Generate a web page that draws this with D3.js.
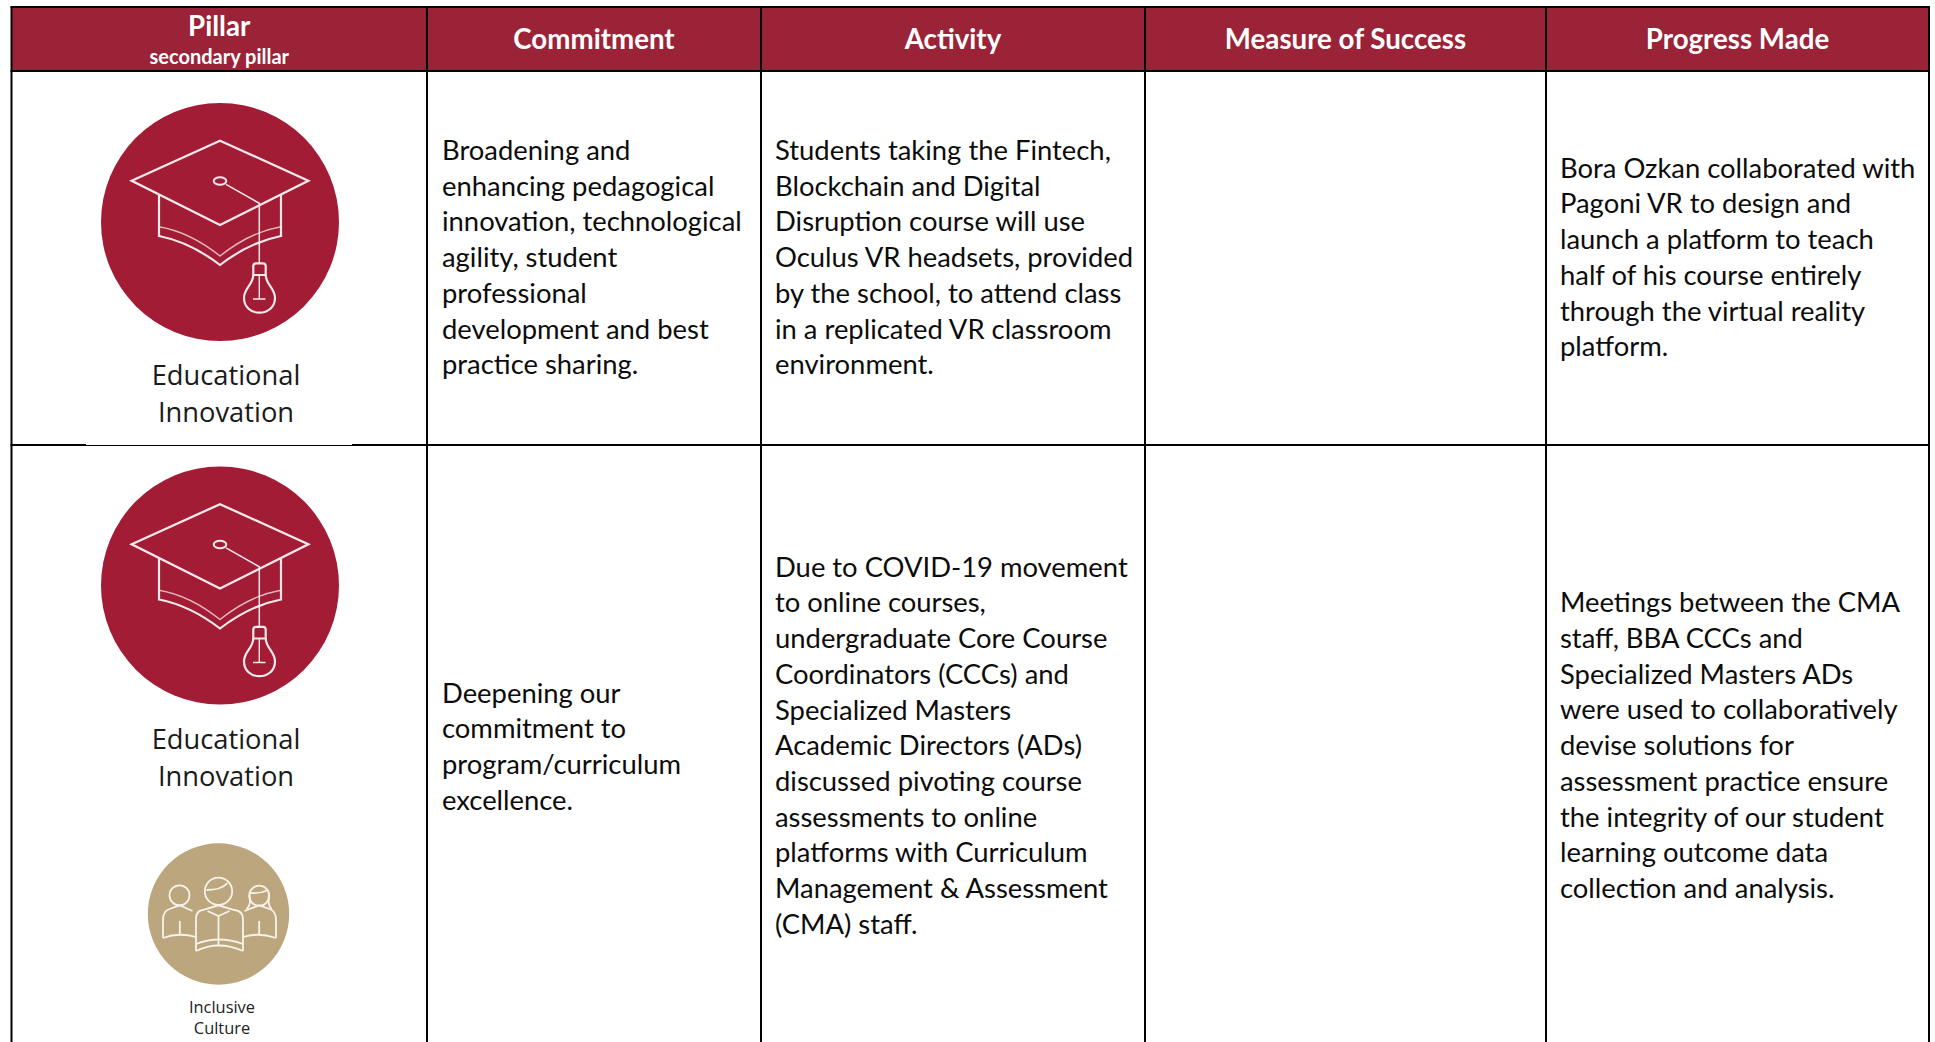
<!DOCTYPE html>
<html>
<head>
<meta charset="utf-8">
<script src="https://cdn.jsdelivr.net/npm/d3@7"></script>
<style>
  html, body { margin: 0; background: #fff; overflow: hidden; }
  svg { display: block; }
  text { font-family: Lato, "Open Sans", sans-serif; }
</style>
</head>
<body>
<div id="chart"></div>
<script>
const headers = ['Pillar', 'Commitment', 'Activity', 'Measure of Success', 'Progress Made'];
const subHeader = 'secondary pillar';
const pillarName = ['Educational', 'Innovation'];
const secondPillarName = ['Inclusive', 'Culture'];

const commitmentOne = ['Broadening and', 'enhancing pedagogical', 'innovation, technological', 'agility, student',
  'professional', 'development and best', 'practice sharing.'];
const activityOne = ['Students taking the Fintech,', 'Blockchain and Digital', 'Disruption course will use',
  'Oculus VR headsets, provided', 'by the school, to attend class', 'in a replicated VR classroom', 'environment.'];
const progressOne = ['Bora Ozkan collaborated with', 'Pagoni VR to design and', 'launch a platform to teach',
  'half of his course entirely', 'through the virtual reality', 'platform.'];

const commitmentTwo = ['Deepening our', 'commitment to', 'program/curriculum', 'excellence.'];
const activityTwo = ['Due to COVID-19 movement', 'to online courses,', 'undergraduate Core Course',
  'Coordinators (CCCs) and', 'Specialized Masters', 'Academic Directors (ADs)', 'discussed pivoting course',
  'assessments to online', 'platforms with Curriculum', 'Management & Assessment', '(CMA) staff.'];
const progressTwo = ['Meetings between the CMA', 'staff, BBA CCCs and', 'Specialized Masters ADs',
  'were used to collaboratively', 'devise solutions for', 'assessment practice ensure',
  'the integrity of our student', 'learning outcome data', 'collection and analysis.'];

const width = 1935, height = 1042;
const colEdges = [11.5, 427, 761, 1145, 1546, 1929];
const headTop = 7, headBottom = 71, rowLine = 445;
const lineHeight = 35.7;
const bodySize = 27.4;
const maroon = '#9b2338', crest = '#a31c35', tan = '#bba67e';

const svg = d3.select('#chart').append('svg')
  .attr('width', width)
  .attr('height', height);

// header band
svg.append('rect')
  .attr('x', colEdges[0])
  .attr('y', headTop)
  .attr('width', colEdges[5] - colEdges[0])
  .attr('height', headBottom - headTop)
  .attr('fill', maroon);

// grid lines
svg.selectAll('.col')
  .data(colEdges)
  .enter()
  .append('line')
  .attr('class', 'col')
  .attr('x1', d => d)
  .attr('x2', d => d)
  .attr('y1', headTop)
  .attr('y2', height)
  .attr('stroke', '#000')
  .attr('stroke-width', 2);

svg.selectAll('.row')
  .data([headTop, headBottom, rowLine])
  .enter()
  .append('line')
  .attr('class', 'row')
  .attr('x1', colEdges[0] - 1)
  .attr('x2', colEdges[5] + 1)
  .attr('y1', d => d)
  .attr('y2', d => d)
  .attr('stroke', '#000')
  .attr('stroke-width', 2);

// the picture in the first cell clips the rule a little
svg.append('rect')
  .attr('x', 86)
  .attr('y', rowLine - 1)
  .attr('width', 266)
  .attr('height', 1)
  .attr('fill', '#fff');

// header text
svg.selectAll('.head')
  .data(headers)
  .enter()
  .append('text')
  .attr('class', 'head')
  .attr('x', (d, i) => (colEdges[i] + colEdges[i + 1]) / 2)
  .attr('y', (d, i) => i === 0 ? 36 : 49)
  .attr('text-anchor', 'middle')
  .attr('fill', '#fff')
  .attr('font-weight', 700)
  .attr('font-size', 27.7)
  .text(d => d);

svg.append('text')
  .attr('x', (colEdges[0] + colEdges[1]) / 2)
  .attr('y', 64)
  .attr('text-anchor', 'middle')
  .attr('fill', '#fff')
  .attr('font-weight', 700)
  .attr('font-size', 20)
  .text(subHeader);

// body cells: lines, left edge, first baseline
const cells = [
  { lines: commitmentOne, x: 442, y: 160 },
  { lines: activityOne, x: 775, y: 160 },
  { lines: progressOne, x: 1560, y: 177.7 },
  { lines: commitmentTwo, x: 442, y: 702.7 },
  { lines: activityTwo, x: 775, y: 576.7 },
  { lines: progressTwo, x: 1560, y: 612.3 }
];

cells.forEach(cell => {
  svg.append('g')
    .selectAll('text')
    .data(cell.lines)
    .enter()
    .append('text')
    .attr('x', cell.x)
    .attr('y', (d, i) => cell.y + i * lineHeight)
    .attr('fill', '#0c0c0c')
    .attr('font-size', bodySize)
    .text(d => d);
});

function drawCap(cx, cy) {
  const g = svg.append('g')
    .attr('transform', `translate(${cx},${cy})`);

  g.append('circle').attr('r', 119).attr('fill', crest);

  const ink = g.append('g')
    .attr('fill', 'none')
    .attr('stroke', '#f6e9ea')
    .attr('stroke-linejoin', 'miter');

  // board and skirt
  ink.append('path').attr('stroke-width', 2.3)
    .attr('d', 'M0,-81.3L88.3,-41.3L0,3L-88.3,-41.3Z');
  ink.append('path').attr('stroke-width', 2.2)
    .attr('d', 'M-61,-27V14Q-30,20 0,43Q30,20 61,14V-27');
  ink.append('path').attr('stroke-width', 1.5).attr('stroke-opacity', 0.75)
    .attr('d', 'M-61,4.7Q-30,10 0,34Q30,10 61,4.7');
  // tassel running into the bulb
  ink.append('ellipse').attr('stroke-width', 2)
    .attr('cy', -41).attr('rx', 6.3).attr('ry', 3.8);
  ink.append('path').attr('stroke-width', 1.5)
    .attr('d', 'M6,-37.7L39.3,-18.7V41.3');
  ink.append('path').attr('stroke-width', 2.2)
    .attr('d', 'M33.3,53V44Q33.3,41.3 36,41.3H43Q45.7,41.3 45.7,44V53Z');
  ink.append('path').attr('stroke-width', 2.2)
    .attr('d', 'M33.3,53C33,63 24,66 24,76C24,85 31,90.7 39.3,90.7C48,90.7 55,85 55,76C55,66 46,63 45.7,53');
  ink.append('path').attr('stroke-width', 1.4)
    .attr('d', 'M39.3,53V77M33,77H45.5');
}

function drawPeople(cx, cy) {
  const g = svg.append('g')
    .attr('transform', `translate(${cx},${cy})`);

  g.append('circle').attr('r', 70.7).attr('fill', tan);

  const ink = g.append('g')
    .attr('fill', 'none')
    .attr('stroke', '#f7f3ea')
    .attr('stroke-width', 1.8);

  // heads
  ink.append('circle').attr('cx', 0).attr('cy', -22.7).attr('r', 13.7);
  ink.append('circle').attr('cx', -39).attr('cy', -18.7).attr('r', 10);
  ink.append('circle').attr('cx', 40.7).attr('cy', -18.3).attr('r', 10);
  ink.append('path').attr('d', 'M-12,-24Q3,-24 9,-31');
  ink.append('path').attr('d', 'M31,-21Q41,-20 50,-24');
  ink.append('path').attr('d', 'M28,-5Q33,-9 31,-19M53,-5Q49,-9 50.5,-19');
  // outer figures
  ink.append('path').attr('d', 'M-55.5,24V6Q-55.5,-3 -49,-5L-39,-8.7L-26,-3');
  ink.append('path').attr('d', 'M-55.5,24Q-40,18 -22.5,23');
  ink.append('path').attr('d', 'M-38.7,7V20');
  ink.append('path').attr('d', 'M57.5,24V6Q57.5,-3 51,-5L40.7,-8.7L26,-3');
  ink.append('path').attr('d', 'M57.5,24Q40,18 24.5,23');
  ink.append('path').attr('d', 'M40.7,7V20');
  // middle figure
  ink.append('path').attr('d', 'M-22.5,37V5Q-22.5,-3 -16,-4L0,-8.7L16,-4Q24.5,-3 24.5,5V37');
  ink.append('path').attr('d', 'M-22.5,37Q0,26 24.5,37');
  ink.append('path').attr('d', 'M-22.5,30Q0,21 24.5,30');
  ink.append('path').attr('d', 'M-11,-3L0,2L11,-3M0,2V32');
}

drawCap(220, 222);
drawCap(220, 585.5);
drawPeople(218.5, 914);

// icon captions
const captions = [
  { lines: pillarName, y: 385 },
  { lines: pillarName, y: 749 }
];

captions.forEach(c => {
  svg.append('g')
    .selectAll('text')
    .data(c.lines)
    .enter()
    .append('text')
    .attr('x', 226)
    .attr('y', (d, i) => c.y + i * 36.5)
    .attr('text-anchor', 'middle')
    .attr('fill', '#1a1a1a')
    .attr('font-size', 27.3)
    .style('font-family', '"Open Sans", sans-serif')
    .text(d => d);
});

svg.append('g')
  .selectAll('text')
  .data(secondPillarName)
  .enter()
  .append('text')
  .attr('x', 222)
  .attr('y', (d, i) => 1012.5 + i * 21.5)
  .attr('text-anchor', 'middle')
  .attr('fill', '#222')
  .attr('font-size', 16.4)
  .style('font-family', '"Open Sans", sans-serif')
  .text(d => d);
</script>
</body>
</html>
